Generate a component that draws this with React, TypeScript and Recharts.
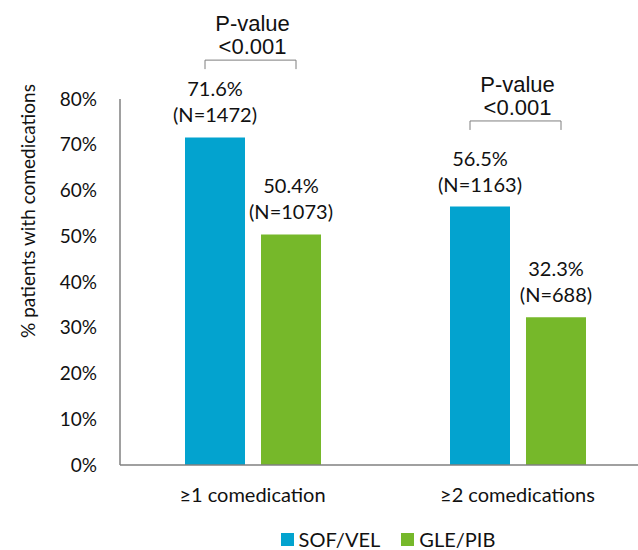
import React from "react";
import { BarChart, Bar, XAxis, YAxis, Legend, LabelList } from "recharts";

// values
const categories = ["≥1 comedication", "≥2 comedications"];
const sofVel = [71.6, 56.5];
const sofVelN = [1472, 1163];
const glePib = [50.4, 32.3];
const glePibN = [1073, 688];
const pValues = ["<0.001", "<0.001"];
const bracketLevel = [88.5, 75.2]; // height of the p-value bracket, in % units
const yTicks = [0, 10, 20, 30, 40, 50, 60, 70, 80];
const seriesOrder = ["SOF/VEL", "GLE/PIB"];

const BLUE = "#03a3cf";
const GREEN = "#76b82a";
const TEXT = "#111";
const FONT = "Lato, 'Open Sans', sans-serif";

const data = categories.map((name, i) => ({
    name,
    sofVel: sofVel[i],
    glePib: glePib[i],
}));

function makeValueLabel(counts: number[]) {
    return (props: any) => {
        const { x, y, width, value, index } = props;
        const cx = x + width / 2;
        return (
            <g fontFamily={FONT} fontSize={20} fill={TEXT} textAnchor="middle">
                <text x={cx} y={y - 41}>{`${value}%`}</text>
                <text x={cx} y={y - 15}>{`(N=${counts[index]})`}</text>
            </g>
        );
    };
}

function PBracket(props: any) {
    const { x, y, height, value, index } = props;
    const perUnit = height / value;
    const by = y + height - bracketLevel[index] * perUnit;
    const x1 = x + 20;
    const x2 = x + 111;
    const cx = (x1 + x2) / 2 + 2;
    return (
        <g>
            <path d={`M${x1},${by + 9}V${by}H${x2}V${by + 9}`} fill="none" stroke="#7f7f7f" strokeWidth={1} />
            <g fontFamily="'Liberation Sans', Arial, sans-serif" fontSize={22} fill={TEXT} textAnchor="middle">
                <text x={cx} y={by - 29}>P-value</text>
                <text x={cx} y={by - 6}>{pValues[index]}</text>
            </g>
        </g>
    );
}

function renderLegend(props: any) {
    const items = [...props.payload].sort(
        (a: any, b: any) => seriesOrder.indexOf(a.value) - seriesOrder.indexOf(b.value)
    );
    return (
        <div style={{ display: "flex", justifyContent: "center", gap: 21, fontFamily: FONT, fontSize: 20, lineHeight: "20px", color: TEXT }}>
            {items.map((p: any) => (
                <span key={p.value} style={{ display: "flex", alignItems: "center" }}>
                    <span style={{ width: 13, height: 13, background: p.color, marginRight: 5, display: "inline-block" }} />
                    {p.value}
                </span>
            ))}
        </div>
    );
}

function YLabel() {
    const x = 27;
    const y = 211;
    return (
        <text x={x} y={y} transform={`rotate(-90, ${x}, ${y})`} textAnchor="middle" dominantBaseline="central"
            fontFamily={FONT} fontSize={19} fill={TEXT}>
            % patients with comedications
        </text>
    );
}

export default function App() {
    return (
        <div style={{ position: "absolute", left: 0, top: 0, width: 638, height: 550, overflow: "hidden", background: "#fff" }}>
            <BarChart width={650} height={550} data={data} margin={{ top: 99, right: 0, bottom: 0, left: 0 }}
                barSize={60} barGap={16}>
                <XAxis dataKey="name" height={85} tickLine={false} tickSize={0} tickMargin={23}
                    axisLine={{ stroke: "#808080", strokeWidth: 1.5 }}
                    tick={{ fill: TEXT, fontSize: 20, fontFamily: FONT }} />
                <YAxis width={120} domain={[0, 80]} ticks={yTicks} interval={0} tickLine={false} tickSize={0} tickMargin={23}
                    tickFormatter={(v) => `${v}%`}
                    axisLine={{ stroke: "#808080", strokeWidth: 1.5 }}
                    tick={{ fill: TEXT, fontSize: 19, fontFamily: FONT }}
                    label={{ content: <YLabel /> }} />
                <Legend layout="horizontal" verticalAlign="middle" align="center" content={renderLegend}
                    wrapperStyle={{ top: 529, left: 138, width: 500 }} />
                <Bar dataKey="sofVel" name="SOF/VEL" fill={BLUE} isAnimationActive={false}>
                    <LabelList dataKey="sofVel" content={makeValueLabel(sofVelN)} />
                    <LabelList dataKey="sofVel" content={<PBracket />} />
                </Bar>
                <Bar dataKey="glePib" name="GLE/PIB" fill={GREEN} isAnimationActive={false}>
                    <LabelList dataKey="glePib" content={makeValueLabel(glePibN)} />
                </Bar>
            </BarChart>
        </div>
    );
}
